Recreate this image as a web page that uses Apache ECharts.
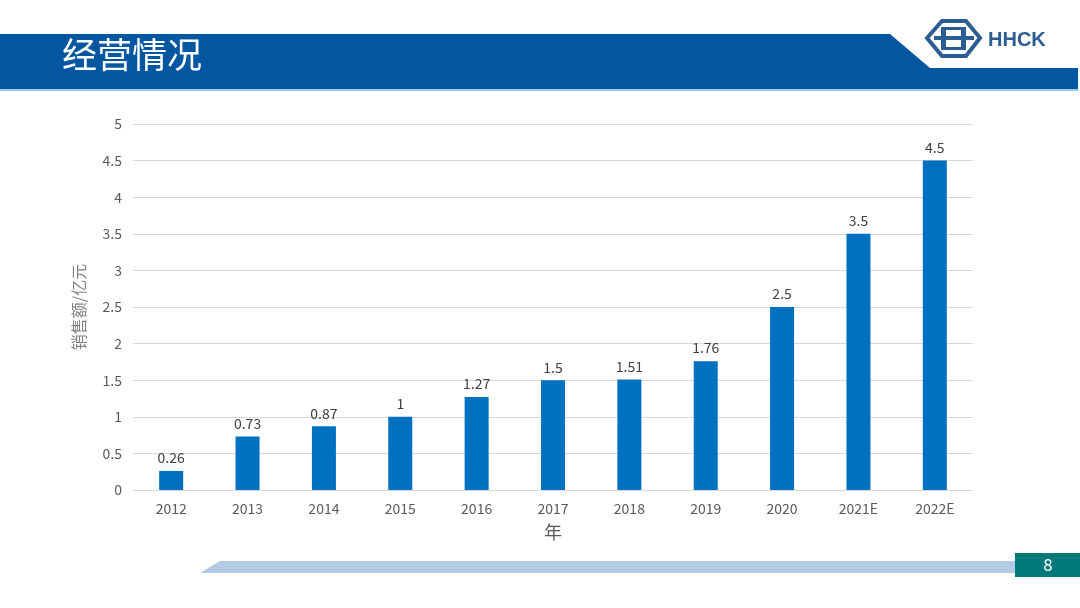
<!DOCTYPE html>
<html><head><meta charset="utf-8">
<script src="https://cdn.jsdelivr.net/npm/echarts@6/dist/echarts.min.js"></script>
<style>html,body{margin:0;padding:0;background:#fff}#c{width:1080px;height:608px}</style>
</head><body><div id="c"></div>
<script>
const categories = ['2012','2013','2014','2015','2016','2017','2018','2019','2020','2021E','2022E'];
const sales = [0.26, 0.73, 0.87, 1, 1.27, 1.5, 1.51, 1.76, 2.5, 3.5, 4.5];
const title = '经营情况';
const yName = '销售额/亿元';
const xName = '年';
const pageNo = '8';

const chart = echarts.init(document.getElementById('c'));
const font = '"Noto Sans CJK SC","Noto Sans",sans-serif';
chart.setOption({
  animation: false,
  textStyle: {fontFamily: font},
  grid: {left: 133, right: 107, top: 124, bottom: 118},
  xAxis: {
    type: 'category', data: categories,
    name: xName, nameLocation: 'middle', nameGap: 33,
    nameTextStyle: {color: '#595959', fontSize: 18, fontFamily: font},
    axisLine: {lineStyle: {color: '#D9D9D9'}},
    axisTick: {show: false},
    axisLabel: {color: '#595959', fontSize: 14, margin: 12, fontFamily: font}
  },
  yAxis: {
    type: 'value', min: 0, max: 5, interval: 0.5,
    name: yName, nameLocation: 'middle', nameGap: 46, nameRotate: 90,
    nameTextStyle: {color: '#808080', fontSize: 16, fontFamily: font},
    axisLine: {show: false}, axisTick: {show: false},
    axisLabel: {color: '#595959', fontSize: 14, margin: 11, fontFamily: font},
    splitLine: {lineStyle: {color: '#D9D9D9'}}
  },
  series: [{
    type: 'bar', data: sales, barWidth: 24,
    itemStyle: {color: '#0070C0'},
    label: {show: true, position: 'top', distance: 6, color: '#404040', fontSize: 14, fontFamily: font}
  }],
  graphic: [
    {type: 'polygon', shape: {points: [[0,34],[890,34],[930,68],[1078,68],[1078,89],[0,89]]}, style: {fill: '#0356A0'}},
    {type: 'rect', shape: {x: 0, y: 89, width: 1078, height: 2}, style: {fill: '#9CCBEA'}},
    {type: 'text', left: 62, top: 37, style: {text: title, fill: '#fff', fontSize: 35, fontFamily: font}},
    {type: 'polygon', shape: {points: [[927,38],[942,21],[966,21],[980,38],[966,56],[942,56]]}, style: {fill: '#fff', stroke: '#2B5C92', lineWidth: 4}},
    {type: 'rect', shape: {x: 941, y: 27, width: 5, height: 23}, style: {fill: '#2B5C92'}},
    {type: 'rect', shape: {x: 961, y: 27, width: 5, height: 23}, style: {fill: '#2B5C92'}},
    {type: 'rect', shape: {x: 934, y: 36, width: 40, height: 4}, style: {fill: '#2B5C92'}},
    {type: 'rect', shape: {x: 946, y: 27, width: 15, height: 3}, style: {fill: '#2B5C92'}},
    {type: 'rect', shape: {x: 946, y: 47, width: 15, height: 3}, style: {fill: '#2B5C92'}},
    {type: 'text', left: 988, top: 30, style: {text: 'HHCK', fill: '#2B5C92', fontSize: 20, fontWeight: 'bold', fontFamily: 'Arial,"Liberation Sans",sans-serif'}},
    {type: 'polygon', shape: {points: [[200,573],[220,561],[1015,561],[1015,573]]}, style: {fill: '#B3CAE3'}},
    {type: 'rect', shape: {x: 1015, y: 553, width: 65, height: 24}, style: {fill: '#007A78'}},
    {type: 'text', x: 1048, y: 565, style: {text: pageNo, fill: '#fff', fontSize: 17, align: 'center', verticalAlign: 'middle', fontFamily: font}}
  ]
});
</script></body></html>
